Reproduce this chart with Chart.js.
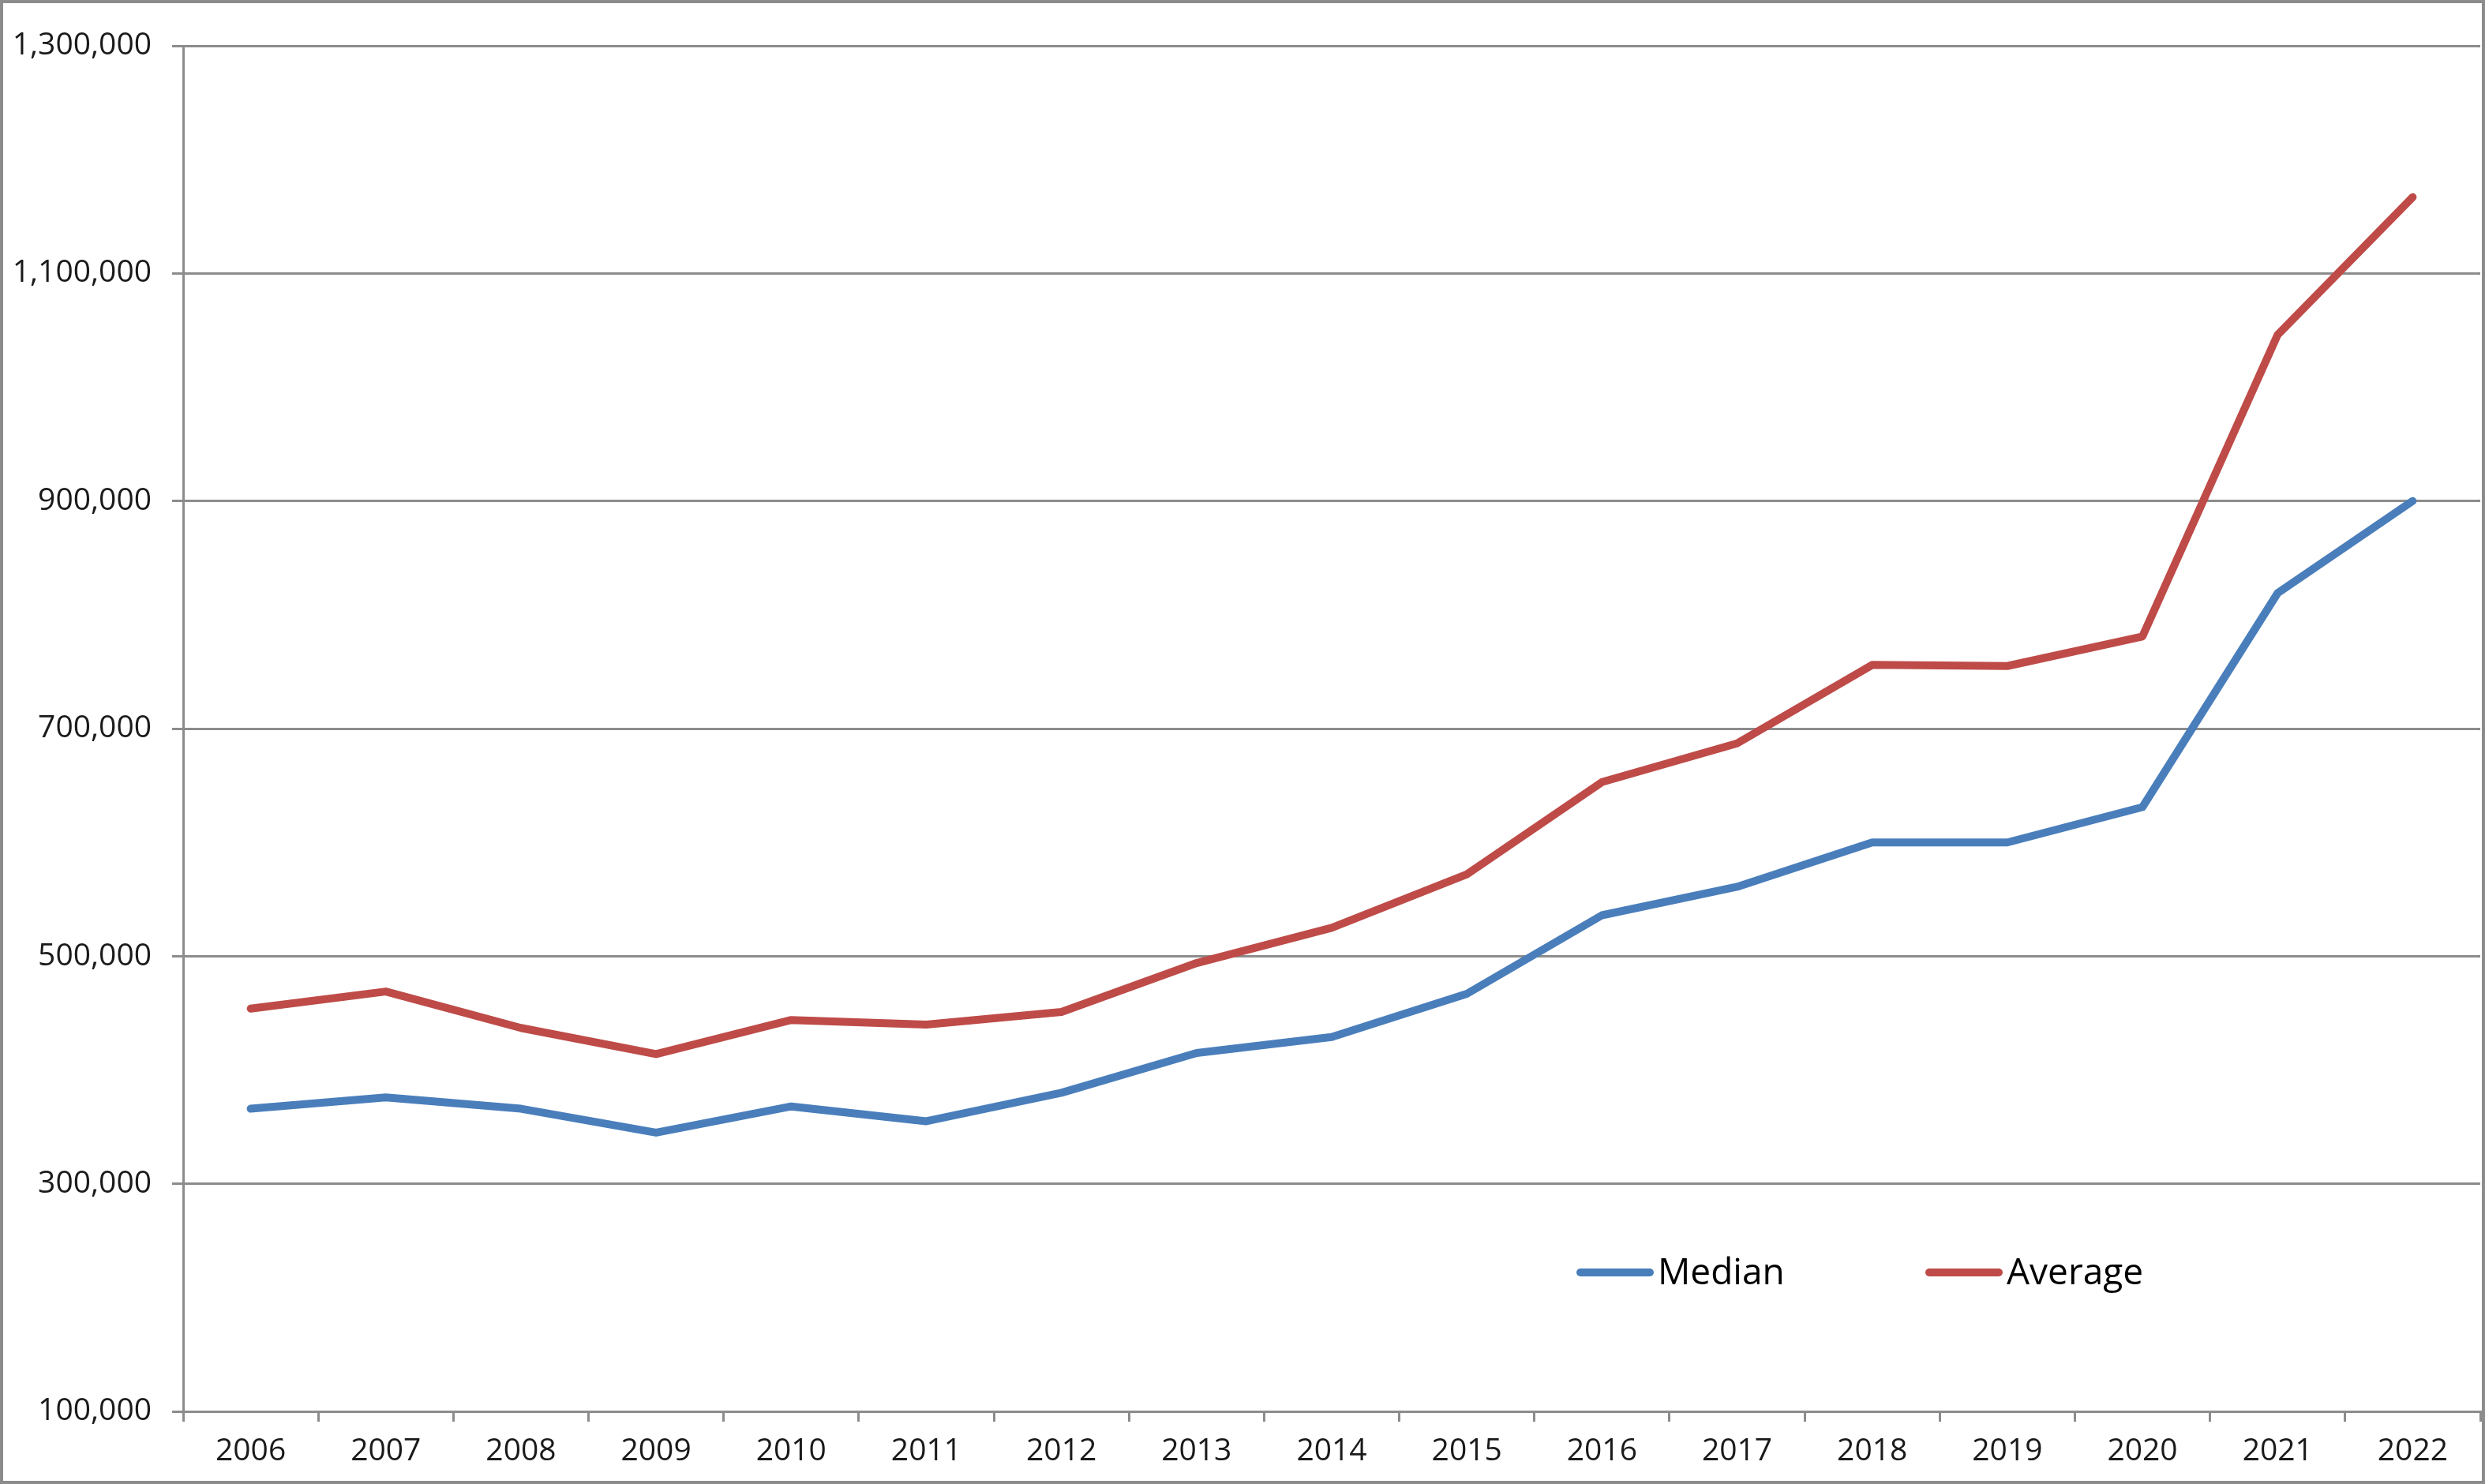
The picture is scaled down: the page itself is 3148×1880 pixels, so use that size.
<!DOCTYPE html>
<html>
<head>
<meta charset="utf-8">
<script src="https://cdn.jsdelivr.net/npm/chart.js@4.4.0/dist/chart.umd.min.js"></script>
<style>
  html, body { margin: 0; padding: 0; background: #fff; }
  #frame {
    width: 3148px; height: 1880px; box-sizing: border-box;
    border: 4px solid #8c8c8c; background: #fff;
  }
  canvas { display: block; }
</style>
</head>
<body>
<div id="frame"><canvas id="chart" width="3140" height="1872"></canvas></div>
<script>
// data
var years = ['2006', '2007', '2008', '2009', '2010', '2011', '2012', '2013', '2014',
             '2015', '2016', '2017', '2018', '2019', '2020', '2021', '2022'];
var median = [366000, 376000, 366000, 345000, 368000, 355000, 380000, 415000, 429000,
              467000, 536000, 561000, 600000, 600000, 631000, 819000, 900000];
var average = [454000, 469000, 437000, 414000, 444000, 440000, 451000, 494000, 525000,
               572000, 653000, 687000, 756000, 755000, 781000, 1046000, 1167000];
var yMin = 100000, yMax = 1300000, yStep = 200000;

var gridColor = '#8c8c8c';
var font = "'Open Sans', 'Noto Sans', sans-serif";

// legend drawn inside the plot, like the original
var insideLegend = {
    id: 'insideLegend',
    afterDraw: function(chart) {
        var ctx = chart.ctx;
        var items = [{x: 1998, ds: chart.data.datasets[0]}, {x: 2440, ds: chart.data.datasets[1]}];
        var y = 1608;
        ctx.save();
        ctx.font = '46px ' + font;
        ctx.textBaseline = 'middle';
        ctx.fillStyle = '#000';
        items.forEach(function(it) {
            ctx.strokeStyle = it.ds.borderColor;
            ctx.lineWidth = 10;
            ctx.lineCap = 'round';
            ctx.beginPath();
            ctx.moveTo(it.x, y);
            ctx.lineTo(it.x + 88, y);
            ctx.stroke();
            ctx.fillText(it.ds.label, it.x + 98, y + 2);
        });
        ctx.restore();
    }
};

var ctx = document.getElementById('chart').getContext('2d');
new Chart(ctx, {
    type: 'line',
    data: {
        labels: years,
        datasets: [{
            label: 'Median',
            data: median,
            borderColor: '#4A7EBB',
            borderWidth: 10,
            pointRadius: 0,
            tension: 0,
            borderCapStyle: 'round',
            borderJoinStyle: 'round'
        }, {
            label: 'Average',
            data: average,
            borderColor: '#BE4B48',
            borderWidth: 10,
            pointRadius: 0,
            tension: 0,
            borderCapStyle: 'round',
            borderJoinStyle: 'round'
        }]
    },
    options: {
        responsive: false,
        animation: false,
        devicePixelRatio: 1,
        layout: { padding: { top: 54, right: 2, bottom: 0, left: 0 } },
        plugins: {
            legend: { display: false },
            tooltip: { enabled: false }
        },
        scales: {
            x: {
                offset: true,
                grid: {
                    offset: true,
                    drawOnChartArea: false,
                    drawTicks: true,
                    tickLength: 13,
                    color: gridColor,
                    lineWidth: 3
                },
                border: { display: true, color: gridColor, width: 3 },
                ticks: {
                    color: '#1a1a1a',
                    font: { family: font, size: 39, lineHeight: 1.1 },
                    padding: 16,
                    maxRotation: 0,
                    autoSkip: false
                }
            },
            y: {
                min: yMin,
                max: yMax,
                afterFit: function(scale) { scale.width = 228; },
                grid: {
                    color: gridColor,
                    lineWidth: 3,
                    tickLength: 14
                },
                border: { display: true, color: gridColor, width: 3 },
                ticks: {
                    stepSize: yStep,
                    color: '#1a1a1a',
                    font: { family: font, size: 39 },
                    padding: 26,
                    callback: function(v) { return v.toLocaleString('en-US'); }
                }
            }
        }
    },
    plugins: [insideLegend]
});
</script>
</body>
</html>
